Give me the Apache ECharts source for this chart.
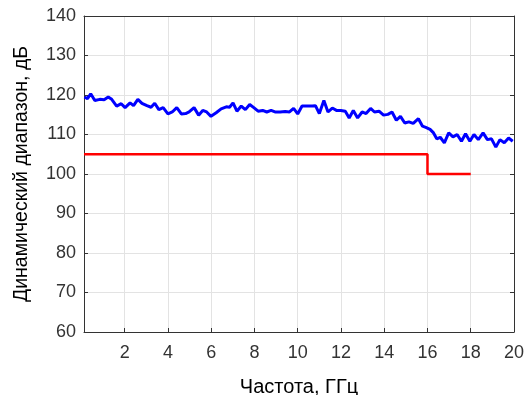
<!DOCTYPE html>
<html>
<head>
<meta charset="utf-8">
<script src="https://cdn.jsdelivr.net/npm/echarts@6/dist/echarts.min.js"></script>
<style>
  html, body { margin: 0; padding: 0; background: #fff; }
  #chart { width: 530px; height: 395px; }
</style>
</head>
<body>
<div id="chart"></div>
<script>
// измеренный динамический диапазон
var freq = [0.14, 0.28, 0.43, 0.62, 0.85, 1.05, 1.24, 1.4, 1.63, 1.84, 2.02, 2.25, 2.41, 2.61, 2.8,
  3.03, 3.22, 3.39, 3.58, 3.78, 4.0, 4.2, 4.41, 4.62, 4.82, 4.98, 5.21, 5.42, 5.61, 5.79, 5.99,
  6.23, 6.46, 6.7, 6.85, 7.01, 7.19, 7.39, 7.58, 7.78, 7.97, 8.17, 8.38, 8.57, 8.77, 8.95, 9.19,
  9.42, 9.62, 9.81, 10.0, 10.2, 10.43, 10.67, 10.82, 11.0, 11.21, 11.4, 11.6, 11.79, 11.99, 12.2,
  12.38, 12.57, 12.77, 12.98, 13.16, 13.37, 13.55, 13.76, 13.97, 14.17, 14.36, 14.56, 14.75,
  14.95, 15.14, 15.34, 15.58, 15.77, 15.92, 16.12, 16.28, 16.43, 16.59, 16.78, 16.98, 17.18,
  17.37, 17.57, 17.76, 17.96, 18.15, 18.35, 18.57, 18.77, 18.96, 19.16, 19.35, 19.55, 19.75, 19.94];
var measured = [119.5, 119.1, 120.3, 118.6, 118.9, 118.8, 119.5, 118.9, 117.2, 117.8, 116.8, 118.0,
  117.3, 118.9, 117.9, 117.3, 116.9, 117.9, 116.3, 116.8, 115.2, 115.7, 116.8, 115.2, 115.3,
  115.7, 116.8, 114.9, 116.1, 115.7, 114.6, 115.5, 116.5, 117.0, 116.9, 118.0, 115.9, 117.2,
  116.3, 117.6, 116.8, 115.9, 116.1, 115.7, 116.1, 115.7, 115.7, 115.8, 115.7, 116.6, 115.2,
  117.2, 117.2, 117.2, 117.3, 115.3, 118.6, 115.7, 116.7, 116.1, 116.1, 115.9, 114.2, 116.1,
  114.2, 115.7, 115.3, 116.6, 115.7, 115.9, 114.9, 115.1, 115.7, 113.6, 114.6, 112.9, 113.2,
  112.8, 114.0, 112.1, 111.8, 111.3, 110.4, 108.9, 109.3, 107.9, 110.4, 109.4, 110.0, 108.3,
  110.2, 108.3, 110.0, 108.7, 110.4, 108.7, 108.9, 106.8, 108.7, 107.9, 109.1, 108.3];

// требование (ступенька)
var reqFreq = [0.12, 16, 16, 18];
var reqLevel = [105, 105, 100, 100];

var xMin = 0.12;
var xTicks = [2, 4, 6, 8, 10, 12, 14, 16, 18, 20];
var yTicks = [60, 70, 80, 90, 100, 110, 120, 130, 140];

function pairs(xs, ys) {
  return xs.map(function (x, i) { return [x, ys[i]]; });
}

var chart = echarts.init(document.getElementById('chart'));
var font = 'Liberation Sans, Arial, sans-serif';
var axisColor = '#333';
var gridColor = '#e3e3e3';

var option = {
  animation: false,
  grid: { left: 84, right: 16, top: 16, bottom: 63, outerBoundsMode: 'none', containLabel: false },
  xAxis: [{
    type: 'value', min: xMin, max: xTicks[xTicks.length - 1],
    name: 'Частота, ГГц', nameLocation: 'middle', nameGap: 45,
    nameTextStyle: { fontFamily: font, fontSize: 20, color: '#000' },
    axisLine: { lineStyle: { color: axisColor, width: 1 } },
    axisTick: { inside: true, length: 4, customValues: xTicks, lineStyle: { color: axisColor } },
    axisLabel: { margin: 12, customValues: xTicks, fontFamily: font, fontSize: 18, color: axisColor },
    splitLine: { show: true, lineStyle: { color: gridColor, width: 1 } }
  }, {
    type: 'value', min: xMin, max: 20, position: 'top',
    axisLine: { show: true, lineStyle: { color: axisColor, width: 1 } },
    axisTick: { show: false }, axisLabel: { show: false }, splitLine: { show: false }
  }],
  yAxis: [{
    type: 'value', min: yTicks[0], max: yTicks[yTicks.length - 1], interval: 10,
    name: 'Динамический диапазон, дБ', nameLocation: 'middle', nameGap: 52,
    nameTextStyle: { fontFamily: font, fontSize: 19.5, color: '#000' },
    axisLine: { show: true, lineStyle: { color: axisColor, width: 1 } },
    axisTick: { show: true, inside: true, length: 4, lineStyle: { color: axisColor } },
    axisLabel: { margin: 8, fontFamily: font, fontSize: 18, color: axisColor },
    splitLine: { show: true, lineStyle: { color: gridColor, width: 1 } }
  }, {
    type: 'value', min: 60, max: 140, interval: 10, position: 'right',
    axisLine: { show: true, lineStyle: { color: axisColor, width: 1 } },
    axisTick: { show: true, inside: true, length: 4, lineStyle: { color: axisColor } },
    axisLabel: { show: false }, splitLine: { show: false }
  }],
  series: [{
    type: 'line', data: pairs(freq, measured), showSymbol: false,
    lineStyle: { color: '#0000ff', width: 3 }, z: 3
  }, {
    type: 'line', data: pairs(reqFreq, reqLevel), showSymbol: false,
    lineStyle: { color: '#ff0000', width: 2.5 }, z: 2
  }]
};
chart.setOption(option);
</script>
</body>
</html>
